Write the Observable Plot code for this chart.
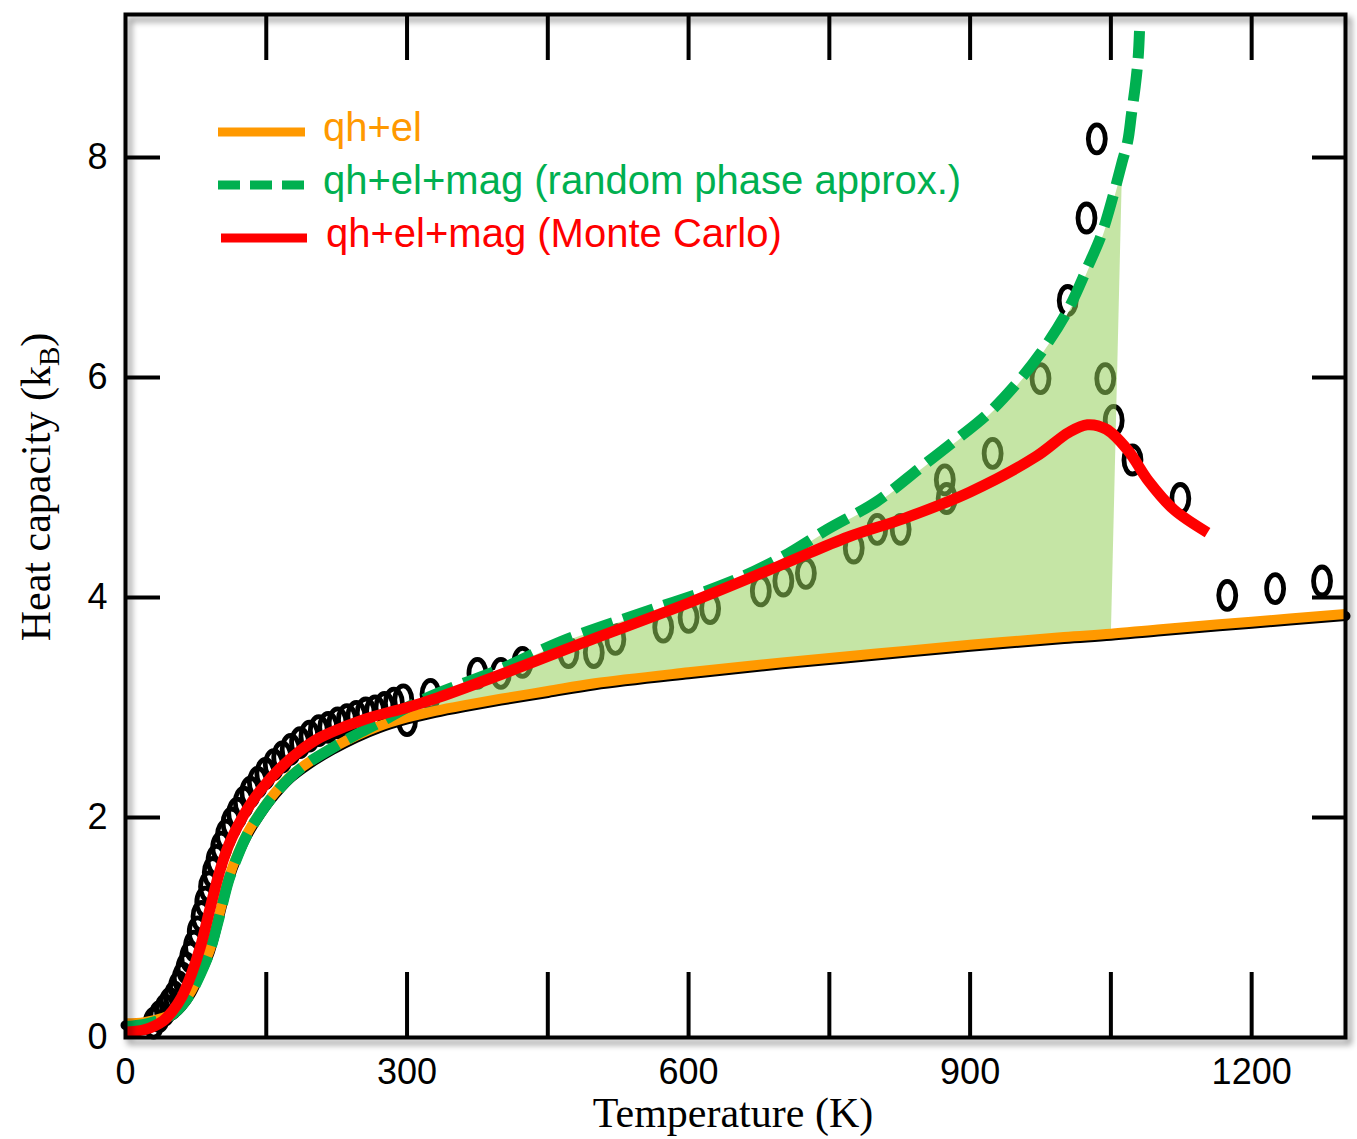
<!DOCTYPE html>
<html><head><meta charset="utf-8">
<script src="https://cdn.jsdelivr.net/npm/d3@7"></script>
<script src="https://cdn.jsdelivr.net/npm/@observablehq/plot@0.6"></script>
<style>
body{margin:0;background:#fff;}
#wrap{position:relative;width:1357px;height:1139px;}
#overlay{position:absolute;left:0;top:0;pointer-events:none;}
</style></head><body><div id="wrap"></div>
<script>
// ---- data ----
const qhT = [0,20,40,50,60,70,80,90,100,110,120,130,140,155,175,195,220,245,270,300,330,360,400,450,500,600,700,800,900,1000,1050,1100,1200,1300];
const qhC = [0.13,0.14,0.18,0.22,0.3,0.42,0.6,0.8,1.12,1.45,1.68,1.86,2.0,2.18,2.37,2.5,2.63,2.74,2.83,2.91,2.97,3.02,3.08,3.15,3.22,3.32,3.41,3.49,3.57,3.64,3.67,3.71,3.78,3.85];

const rpaT = [0,20,40,50,60,70,80,90,100,110,120,130,140,155,175,195,220,245,270,300,330,360,400,464,550,641,700,748,800,847,880,919,950,975,1004,1025,1040,1053,1062,1068,1072,1076,1079,1080.5];
const rpaC = [0.1,0.12,0.17,0.21,0.29,0.41,0.58,0.79,1.1,1.43,1.66,1.85,1.99,2.17,2.36,2.5,2.63,2.75,2.86,3.0,3.12,3.22,3.35,3.6,3.86,4.13,4.37,4.62,4.87,5.18,5.4,5.67,5.95,6.22,6.61,7.0,7.3,7.67,7.96,8.15,8.4,8.65,8.9,9.15];

const mcT = [0,20,40,50,60,70,80,90,100,110,120,130,145,165,185,208,235,261,300,333,400,485,600,700,770,830,900,970,1005,1025,1045,1068,1090,1117,1153];
const mcC = [0.05,0.07,0.15,0.24,0.37,0.57,0.83,1.17,1.5,1.75,1.93,2.08,2.26,2.45,2.6,2.73,2.83,2.91,3.0,3.09,3.3,3.58,3.95,4.3,4.55,4.72,4.96,5.28,5.5,5.57,5.53,5.34,5.06,4.8,4.59];

const expT = [30,36,42,47,52,57,61,65,69,73,77,81,85,89,93,97,102,107,113,119,126,133,141,149,158,167,176,186,196,206,216,226,236,246,256,266,276,286,296,300,325,375,400,423,472,499,522,573,600,623,677,701,725,776,801,826,873,875,924,975,1004,1024,1035,1044,1053,1073,1124,1174,1225,1275];
const expC = [0.13,0.19,0.25,0.31,0.37,0.46,0.54,0.63,0.73,0.83,0.96,1.1,1.23,1.37,1.5,1.61,1.73,1.84,1.95,2.04,2.14,2.23,2.32,2.4,2.48,2.55,2.62,2.68,2.74,2.79,2.82,2.86,2.89,2.92,2.95,2.97,3.0,3.04,3.07,2.88,3.12,3.31,3.31,3.41,3.5,3.5,3.62,3.73,3.82,3.9,4.06,4.15,4.22,4.45,4.62,4.62,5.07,4.9,5.31,5.99,6.7,7.45,8.17,5.99,5.61,5.25,4.9,4.02,4.08,4.15];

const xLabelTicks = [0,300,600,900,1200];
const xMinorTicks = [150,300,450,600,750,900,1050,1200];
const yLabelTicks = [0,2,4,6,8];
const yMinorTicks = [2,4,6,8];

const legendLabels = ["qh+el","qh+el+mag (random phase approx.)","qh+el+mag (Monte Carlo)"];
const colors = {qh:"#ff9900", rpa:"#00b050", mc:"#ff0000"};

// ---- tables ----
const qh = qhT.map((T,i)=>({T, C:qhC[i]}));
const rpa = rpaT.map((T,i)=>({T, C:rpaC[i]}));
const mc = mcT.map((T,i)=>({T, C:mcC[i]}));
const exp = expT.map((T,i)=>({T, C:expC[i]}));
// shaded region: between qh+el and RPA curves
const shade = [
  ...qh.filter(d=>d.T>=300 && d.T<=1050).reverse(),
  ...rpa.filter(d=>d.T>=300 && d.T<=1062)
];

const ellipse = {draw(ctx){
  const rx=8.5, ry=14, k=0.5523;
  ctx.moveTo(rx,0);
  ctx.bezierCurveTo(rx, ry*k, rx*k, ry, 0, ry);
  ctx.bezierCurveTo(-rx*k, ry, -rx, ry*k, -rx, 0);
  ctx.bezierCurveTo(-rx, -ry*k, -rx*k, -ry, 0, -ry);
  ctx.bezierCurveTo(rx*k, -ry, rx, -ry*k, rx, 0);
  ctx.closePath();
}};

const W=1357, H=1139, mL=125, mR=12, mT=14, mB=102;
const iw=W-mL-mR, ih=H-mT-mB;
const fmt = d3.format("d");

const chart = Plot.plot({
  width:W, height:H, marginLeft:mL, marginRight:mR, marginTop:mT, marginBottom:mB,
  x:{domain:[0,1300]}, y:{domain:[0,9.3]},
  style:{fontFamily:"'Liberation Sans', Arial, sans-serif", fontSize:"36px", color:"black", background:"white", overflow:"visible"},
  marks:[
    Plot.dot(exp, {x:"T", y:"C", symbol:ellipse, stroke:"black", strokeWidth:4.8, fill:"none"}),
    Plot.line(shade, {x:"T", y:"C", fill:"#94cf59", fillOpacity:0.54, stroke:"white", strokeWidth:3, curve:"catmull-rom"}),
    Plot.line(qh, {x:"T", y:"C", stroke:"black", strokeWidth:10, dy:2, curve:"catmull-rom"}),
    Plot.line(qh, {x:"T", y:"C", stroke:colors.qh, strokeWidth:10, curve:"catmull-rom", strokeLinecap:"butt"}),
    Plot.line(rpa, {x:"T", y:"C", stroke:colors.rpa, strokeWidth:11, strokeDasharray:"32,11", curve:"catmull-rom", strokeLinecap:"butt"}),
    Plot.line(mc, {x:"T", y:"C", stroke:colors.mc, strokeWidth:11, curve:"catmull-rom", strokeLinecap:"butt"}),
    Plot.tickX(xMinorTicks, {x:d=>d, insetTop:ih-65, strokeWidth:4}),
    Plot.tickX(xMinorTicks, {x:d=>d, insetBottom:ih-46, strokeWidth:4}),
    Plot.tickY(yMinorTicks, {y:d=>d, insetRight:iw-35, strokeWidth:4}),
    Plot.tickY(yMinorTicks, {y:d=>d, insetLeft:iw-33, strokeWidth:4}),
    Plot.axisX(xLabelTicks, {tickSize:0, tickPadding:21, fontSize:36, label:null, tickFormat:fmt}),
    Plot.axisY(yLabelTicks, {tickSize:0, tickPadding:18, fontSize:36, label:null, tickFormat:fmt}),
    Plot.frame({strokeWidth:4})
  ]
});
const wrap = document.getElementById("wrap");
wrap.appendChild(chart);
const fr = chart.querySelector('[aria-label="frame"]');
if (fr) fr.style.filter = "drop-shadow(4px 5px 3px rgba(0,0,0,0.45))";

// ---- overlay: axis titles and legend ----
const ov = d3.select(wrap).append("svg").attr("id","overlay").attr("width",W).attr("height",H);
ov.append("text").attr("x",733).attr("y",1127).attr("text-anchor","middle")
  .style("font-family","'Liberation Serif', 'Times New Roman', serif").style("font-size","42px").text("Temperature (K)");
const yt = ov.append("text").attr("transform","translate(50,487) rotate(-90)").attr("text-anchor","middle")
  .style("font-family","'Liberation Serif', 'Times New Roman', serif").style("font-size","42px");
yt.append("tspan").text("Heat capacity (k");
yt.append("tspan").attr("dy",9).style("font-size","29px").text("B");
yt.append("tspan").attr("dy",-9).text(")");

const lg = [
  {y:132, x1:218, x2:305, tx:323, ty:141, c:colors.qh, dash:null},
  {y:185, x1:218, x2:305, tx:323, ty:194, c:colors.rpa, dash:"22,10"},
  {y:238, x1:221, x2:307, tx:326, ty:247, c:colors.mc, dash:null}
];
lg.forEach((d,i)=>{
  const l = ov.append("line").attr("x1",d.x1).attr("x2",d.x2).attr("y1",d.y).attr("y2",d.y)
    .attr("stroke",d.c).attr("stroke-width",9);
  if (d.dash) l.attr("stroke-dasharray",d.dash);
  ov.append("text").attr("x",d.tx).attr("y",d.ty).attr("fill",d.c)
    .style("font-family","'Liberation Sans', Arial, sans-serif").style("font-size","40px").text(legendLabels[i]);
});
</script></body></html>
